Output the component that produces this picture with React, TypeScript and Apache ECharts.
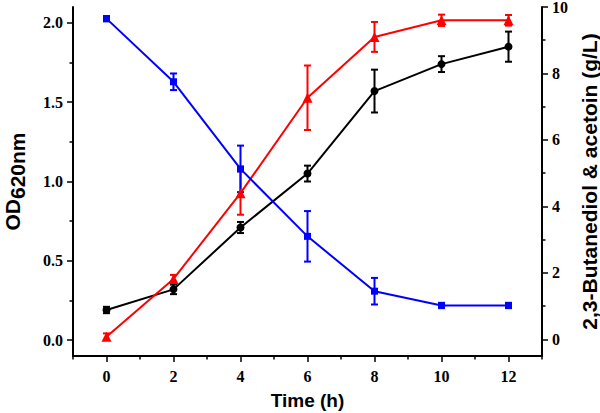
import React, { useEffect, useRef } from "react";
import * as echarts from "echarts";

const time = [0, 2, 4, 6, 8, 10, 12];
const odValues = [0.19, 0.32, 0.71, 1.05, 1.57, 1.74, 1.85];
const odErr = [0.02, 0.03, 0.035, 0.05, 0.135, 0.05, 0.095];
const redValues = [0.08, 1.82, 4.4, 7.27, 9.1, 9.6, 9.6];
const redErr = [0.1, 0.12, 0.65, 0.97, 0.45, 0.17, 0.16];
const blueValues = [9.65, 7.75, 5.13, 3.1, 1.45, 1.02, 1.02];
const blueErr = [0.08, 0.25, 0.7, 0.76, 0.4, 0.08, 0.08];

const xTicks = [0, 2, 4, 6, 8, 10, 12];
const xMinorTicks = [-1, 1, 3, 5, 7, 9, 11, 13];
const leftTicks = [0, 0.5, 1.0, 1.5, 2.0];
const leftMinorTicks = [0.25, 0.75, 1.25, 1.75];
const rightTicks = [0, 2, 4, 6, 8, 10];
const rightMinorTicks = [1, 3, 5, 7, 9];

const SERIF = "'Liberation Serif', 'Times New Roman', serif";
const SANS = "'Liberation Sans', Arial, sans-serif";

function errSeries(values: number[], errs: number[], color: string, yAxisIndex: number) {
  return {
    type: "custom",
    yAxisIndex,
    silent: true,
    data: time.map((t, i) => [t, values[i], values[i] - errs[i], values[i] + errs[i]]),
    encode: { x: 0, y: [1, 2, 3] },
    renderItem: (params: any, api: any) => {
      const x = api.value(0);
      const lo = api.value(2);
      const hi = api.value(3);
      const pHi = api.coord([x, hi]);
      const pLo = api.coord([x, lo]);
      const w = 3.5;
      const style = { stroke: color, lineWidth: 2 };
      return {
        type: "group",
        children: [
          { type: "line", shape: { x1: pHi[0], y1: pHi[1], x2: pLo[0], y2: pLo[1] }, style },
          { type: "line", shape: { x1: pHi[0] - w, y1: pHi[1], x2: pHi[0] + w, y2: pHi[1] }, style },
          { type: "line", shape: { x1: pLo[0] - w, y1: pLo[1], x2: pLo[0] + w, y2: pLo[1] }, style },
        ],
      };
    },
  };
}

export default function App() {
  const ref = useRef<HTMLDivElement>(null);
  useEffect(() => {
    if (!ref.current) return;
    const chart = echarts.init(ref.current, undefined, { renderer: "svg" });
    const axisLine = { show: true, onZero: false, lineStyle: { color: "#000", width: 2 } };
    const tickLabel = { color: "#000", fontFamily: SERIF, fontWeight: "bold" as const, fontSize: 16 };
    const minorTicks = (ticks: number[], len: number) => ({
      show: true,
      customValues: ticks,
      length: len,
      lineStyle: { color: "#000", width: 1.5 },
    });
    chart.setOption({
      animation: false,
      grid: { left: 73, right: 58, top: 7, bottom: 57, containLabel: false, outerBoundsMode: "none" },
      xAxis: [
        {
          type: "value",
          min: -1,
          max: 13,
          position: "bottom",
          axisLine,
          axisTick: { show: true, customValues: xTicks, length: 6, lineStyle: { color: "#000", width: 1.5 } },
          axisLabel: { ...tickLabel, customValues: xTicks, margin: 12 },
          splitLine: { show: false },
          name: "Time (h)",
          nameLocation: "middle",
          nameGap: 35,
          nameTextStyle: { color: "#000", fontFamily: SANS, fontWeight: "bold", fontSize: 19 },
        },
        {
          type: "value",
          min: -1,
          max: 13,
          position: "bottom",
          axisLine: { show: false, onZero: false },
          axisTick: minorTicks(xMinorTicks, 3.5),
          axisLabel: { show: false },
          splitLine: { show: false },
        },
      ],
      yAxis: [
        {
          type: "value",
          min: -0.1,
          max: 2.1,
          position: "left",
          axisLine,
          axisTick: { show: true, customValues: leftTicks, length: 6, lineStyle: { color: "#000", width: 1.5 } },
          axisLabel: { ...tickLabel, customValues: leftTicks, margin: 10, formatter: (v: number) => v.toFixed(1) },
          splitLine: { show: false },
          name: "{a|OD}{b|620nm}",
          nameLocation: "middle",
          nameGap: 45,
          nameTextStyle: {
            rich: {
              a: { color: "#000", fontFamily: SANS, fontWeight: "bold", fontSize: 21 },
              b: { color: "#000", fontFamily: SANS, fontWeight: "bold", fontSize: 21, padding: [10, 0, 0, 0] },
            },
          },
        },
        {
          type: "value",
          min: -0.5,
          max: 10,
          position: "right",
          axisLine,
          axisTick: { show: true, customValues: rightTicks, length: 6, lineStyle: { color: "#000", width: 1.5 } },
          axisLabel: { ...tickLabel, customValues: rightTicks, margin: 10 },
          splitLine: { show: false },
          name: "2,3-Butanediol & acetoin (g/L)",
          nameLocation: "middle",
          nameGap: 31,
          nameTextStyle: { color: "#000", fontFamily: SANS, fontWeight: "bold", fontSize: 21 },
        },
        {
          type: "value",
          min: -0.1,
          max: 2.1,
          position: "left",
          axisLine: { show: false, onZero: false },
          axisTick: minorTicks(leftMinorTicks, 3.5),
          axisLabel: { show: false },
          splitLine: { show: false },
        },
        {
          type: "value",
          min: -0.5,
          max: 10,
          position: "right",
          axisLine: { show: false, onZero: false },
          axisTick: minorTicks(rightMinorTicks, 3.5),
          axisLabel: { show: false },
          splitLine: { show: false },
        },
      ],
      series: [
        errSeries(odValues, odErr, "#000", 0),
        {
          type: "line",
          yAxisIndex: 0,
          data: time.map((t, i) => [t, odValues[i]]),
          symbol: "circle",
          symbolSize: 8,
          itemStyle: { color: "#000" },
          lineStyle: { color: "#000", width: 2 },
        },
        errSeries(redValues, redErr, "#ff0000", 1),
        {
          type: "line",
          yAxisIndex: 1,
          data: time.map((t, i) => [t, redValues[i]]),
          symbol: "triangle",
          symbolSize: 10,
          itemStyle: { color: "#ff0000" },
          lineStyle: { color: "#ff0000", width: 2 },
        },
        errSeries(blueValues, blueErr, "#0000ff", 1),
        {
          type: "line",
          yAxisIndex: 1,
          data: time.map((t, i) => [t, blueValues[i]]),
          symbol: "rect",
          symbolSize: 7,
          itemStyle: { color: "#0000ff" },
          lineStyle: { color: "#0000ff", width: 2 },
        },
      ],
    });
    return () => chart.dispose();
  }, []);
  return (
    <div
      ref={ref}
      style={{ position: "fixed", left: 0, top: 0, width: 600, height: 413, background: "#fff" }}
    />
  );
}
